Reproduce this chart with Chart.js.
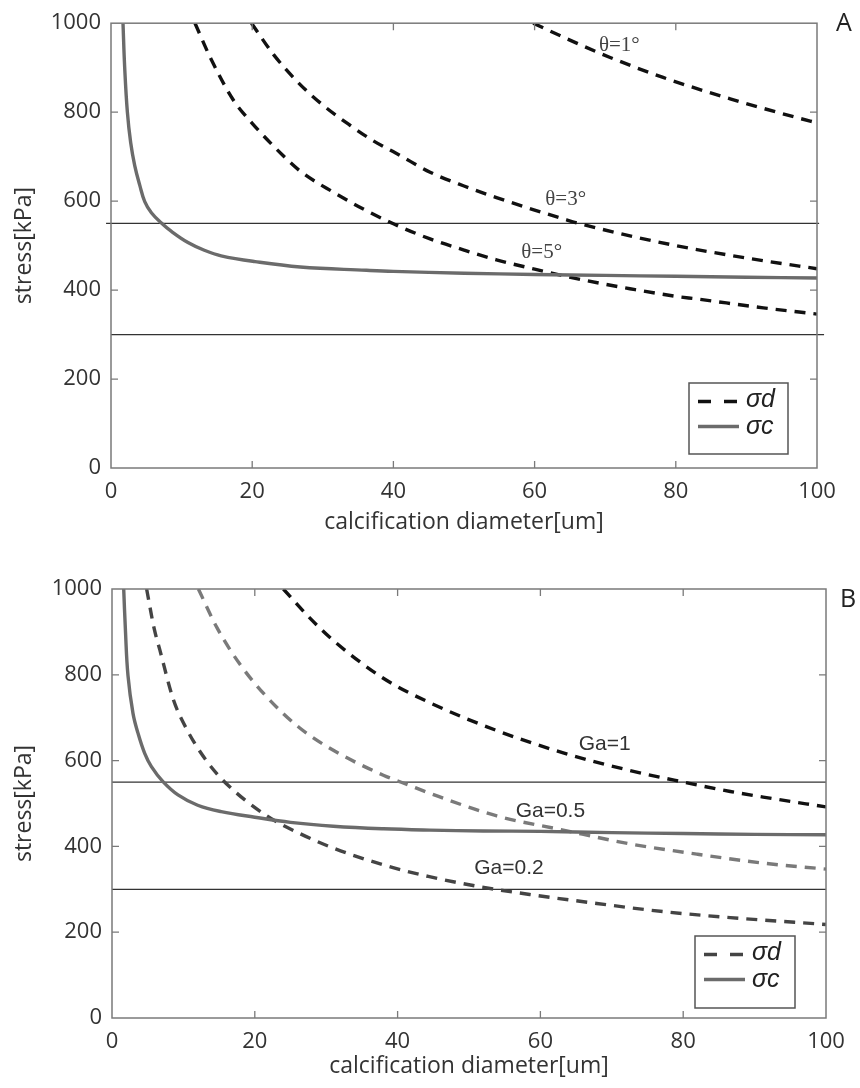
<!DOCTYPE html>
<html><head><meta charset="utf-8">
<script src="https://cdn.jsdelivr.net/npm/chart.js@4.4.1/dist/chart.umd.min.js"></script>
<style>
html,body{margin:0;padding:0;background:#fff;}
#wrap{position:relative;width:860px;height:1088px;overflow:hidden;}
.box{position:absolute;left:0;width:860px;height:544px;}
</style></head><body>
<div id="wrap">
<div class="box" style="top:0"><canvas id="cA"></canvas></div>
<div class="box" style="top:544px"><canvas id="cB"></canvas></div>
</div>
<script>
// ---------- data ----------
const xTicks = [0, 20, 40, 60, 80, 100];
const yTicks = [0, 200, 400, 600, 800, 1000];
const xTitle = 'calcification diameter[um]';
const yTitle = 'stress[kPa]';
const limitValues = [550, 300];

// Panel A
const aSigmaCX = [1.7, 1.94, 2.32, 2.79, 3.36, 4.07, 4.78, 5.72, 7.14, 8.56, 10.9, 13.3, 15.6, 20.4, 26.8, 36.2, 40, 50, 60, 70, 80, 90, 100];
const aSigmaCY = [1000, 900, 800, 731, 680, 636, 599, 574, 551, 532, 507, 489, 477, 464, 452, 444.5, 442, 438, 435, 433, 431, 429, 427];
const aTheta5X = [11.9, 14, 17.3, 20, 24.4, 27, 31.5, 36, 40, 45.2, 50, 54.6, 60, 64.1, 70, 73.5, 80, 83, 92.4, 100];
const aTheta5Y = [1000, 925, 828, 775, 702, 665, 620, 580, 549, 515, 490, 468, 447, 432, 413, 403, 386, 380, 360, 346];
const aTheta3X = [19.9, 23, 26.8, 30, 33.9, 37, 40.9, 45.2, 50, 54.6, 60, 64.1, 66, 73.5, 80, 83, 92.4, 100];
const aTheta3Y = [1000, 930, 862, 816, 770, 737, 703, 665, 634, 608, 580, 560, 551, 522, 500, 491, 466, 448];
const aTheta1X = [59.8, 65, 70.7, 78.2, 87.7, 97.1, 100];
const aTheta1Y = [1000, 962, 923, 878, 830, 788, 776];
const aLimitX = [[-0.7, 100.3], [0, 101]];
const aLabels = ['θ=1°', 'θ=3°', 'θ=5°'];
const aLabelX = [72.0, 64.4, 61.0];
const aLabelY = [949, 603, 485];

// Panel B
const bSigmaCX = [1.64, 1.88, 2.24, 2.94, 3.64, 4.58, 5.52, 7.14, 9.24, 12.0, 15.3, 20, 25, 31, 38, 44.5, 52, 60, 70, 80, 90, 100];
const bSigmaCY = [1000, 904, 798, 710, 664, 617, 586, 551, 520, 496, 481, 468, 456, 447, 441, 438, 436, 435, 432, 430, 428, 427];
const bGa02X = [4.85, 5.9, 6.7, 8.6, 10.5, 13.3, 16.1, 21.7, 26.3, 31, 38, 44.3, 51.5, 58.5, 67.9, 77.2, 86.6, 100];
const bGa02Y = [1000, 908, 858, 742, 672, 598, 545, 471, 430, 396, 357, 330, 306, 288, 267, 248, 234, 218];
const bGa05X = [12.1, 14.7, 17.9, 21.7, 26.3, 31, 38, 41.7, 44.5, 53.9, 63.2, 72.5, 81.9, 91.2, 100];
const bGa05Y = [1000, 910, 825, 748, 676, 624, 566, 542, 524, 471, 438, 406, 382, 361, 347];
const bGa1X = [24, 27.5, 31, 38, 44.5, 53.9, 63.2, 72.5, 80, 86.6, 91.2, 100];
const bGa1Y = [1000, 936, 880, 792, 735, 670, 618, 577, 550, 528, 515, 492];
const bLimitX = [[0, 100], [0, 100]];
const bLabels = ['Ga=1', 'Ga=0.5', 'Ga=0.2'];
const bLabelX = [69.0, 61.4, 55.6];
const bLabelY = [639, 481, 350];

const legendNames = ['σd', 'σc'];

// ---------- helpers ----------
function pts(xs, ys) { return xs.map((v, i) => ({x: v, y: ys[i]})); }
function curve(xs, ys, color, dashed, order) {
  return {
    data: pts(xs, ys), borderColor: color, borderWidth: 3.4,
    borderDash: dashed ? [11, 8] : [], borderCapStyle: 'butt',
    pointRadius: 0, pointHoverRadius: 0, fill: false,
    cubicInterpolationMode: dashed ? 'monotone' : 'default', tension: 0.4, order: order
  };
}
function limitSet(xr, yv) {
  return {
    data: [{x: xr[0], y: yv}, {x: xr[1], y: yv}], borderColor: '#333', borderWidth: 1.3,
    pointRadius: 0, fill: false, clip: false, tension: 0, order: 10
  };
}

const decor = {
  id: 'decor',
  afterDatasetsDraw(chart, args, o) {
    const {ctx, chartArea: ca, scales} = chart;
    const x = scales.x, y = scales.y;
    ctx.save();
    ctx.strokeStyle = '#7a7a7a'; ctx.lineWidth = 1.5; ctx.setLineDash([]);
    ctx.strokeRect(ca.left, ca.top, ca.right - ca.left, ca.bottom - ca.top);
    ctx.beginPath(); ctx.lineWidth = 1.3;
    x.ticks.forEach(t => {
      if (t.value <= x.min || t.value >= x.max) return;
      const p = x.getPixelForValue(t.value);
      ctx.moveTo(p, ca.bottom); ctx.lineTo(p, ca.bottom - 7);
      ctx.moveTo(p, ca.top); ctx.lineTo(p, ca.top + 7);
    });
    y.ticks.forEach(t => {
      if (t.value <= y.min || t.value >= y.max) return;
      const p = y.getPixelForValue(t.value);
      ctx.moveTo(ca.left, p); ctx.lineTo(ca.left + 7, p);
      ctx.moveTo(ca.right, p); ctx.lineTo(ca.right - 7, p);
    });
    ctx.stroke();
    ctx.fillStyle = o.labelColor; ctx.font = o.labelFont;
    ctx.textAlign = 'center'; ctx.textBaseline = 'middle';
    o.labels.forEach((s, i) => {
      ctx.fillText(s, x.getPixelForValue(o.labelX[i]), y.getPixelForValue(o.labelY[i]));
    });
    const L = o.legend;
    const bx = ca.right - L.right - L.w, by = ca.bottom - L.bottom - L.h;
    ctx.fillStyle = '#fff'; ctx.fillRect(bx, by, L.w, L.h);
    ctx.strokeStyle = '#555'; ctx.lineWidth = 1.5;
    ctx.strokeRect(bx, by, L.w, L.h);
    ctx.lineWidth = 3.4;
    ctx.strokeStyle = L.dashColor; ctx.setLineDash([13, 13]);
    ctx.beginPath(); ctx.moveTo(bx + 9, by + 18.5); ctx.lineTo(bx + 49, by + 18.5); ctx.stroke();
    ctx.strokeStyle = '#6b6b6b'; ctx.setLineDash([]);
    ctx.beginPath(); ctx.moveTo(bx + 9, by + 43.5); ctx.lineTo(bx + 50, by + 43.5); ctx.stroke();
    ctx.fillStyle = '#222'; ctx.font = 'italic 25px "Liberation Sans", Arial, sans-serif';
    ctx.textAlign = 'left'; ctx.textBaseline = 'middle';
    ctx.fillText(legendNames[0], bx + 57, by + 17);
    ctx.fillText(legendNames[1], bx + 57, by + 44);
    ctx.fillStyle = '#222'; ctx.font = '25px "Open Sans", sans-serif';
    ctx.textAlign = 'center';
    ctx.fillText(o.letter, o.letterX, o.letterY);
    ctx.restore();
  }
};

function makeOptions(p) {
  return {
    responsive: true, maintainAspectRatio: false, animation: false,
    layout: {padding: {left: 0, top: p.top, right: p.right, bottom: 0}},
    plugins: {
      legend: {display: false}, tooltip: {enabled: false},
      decor: p.decor
    },
    scales: {
      x: {
        type: 'linear', min: 0, max: 100,
        afterBuildTicks: s => { s.ticks = xTicks.map(v => ({value: v})); },
        afterFit: s => { s.height = p.xh; },
        grid: {display: false, drawTicks: false},
        border: {display: false},
        ticks: {padding: 11, color: '#333', callback: v => String(v),
                font: {family: '"Open Sans", sans-serif', size: 22}},
        title: {display: true, text: xTitle, color: '#333', padding: {top: 0, bottom: 8},
                font: {family: '"Open Sans", sans-serif', size: 23}}
      },
      y: {
        type: 'linear', min: 0, max: 1000,
        afterBuildTicks: s => { s.ticks = yTicks.map(v => ({value: v})); },
        afterFit: s => { s.width = p.yw; },
        grid: {display: false, drawTicks: false},
        border: {display: false},
        ticks: {padding: 10, color: '#333', callback: v => String(v),
                font: {family: '"Open Sans", sans-serif', size: 22}},
        title: {display: true, text: yTitle, color: '#333', padding: {top: 11, bottom: 0},
                font: {family: '"Open Sans", sans-serif', size: 23}}
      }
    }
  };
}

new Chart(document.getElementById('cA'), {
  type: 'line',
  data: {datasets: [
    curve(aSigmaCX, aSigmaCY, '#6b6b6b', false, 1),
    curve(aTheta5X, aTheta5Y, '#111', true, 2),
    curve(aTheta3X, aTheta3Y, '#111', true, 2),
    curve(aTheta1X, aTheta1Y, '#111', true, 2),
    limitSet(aLimitX[0], limitValues[0]),
    limitSet(aLimitX[1], limitValues[1])
  ]},
  options: makeOptions({top: 15, right: 43, xh: 76, yw: 111, decor: {
    labels: aLabels, labelX: aLabelX, labelY: aLabelY, labelColor: '#444',
    labelFont: '21px "Liberation Serif", "Times New Roman", serif',
    legend: {w: 99, h: 71, right: 29, bottom: 14, dashColor: '#111'},
    letter: 'A', letterX: 844, letterY: 24
  }}),
  plugins: [decor]
});

new Chart(document.getElementById('cB'), {
  type: 'line',
  data: {datasets: [
    curve(bSigmaCX, bSigmaCY, '#6b6b6b', false, 1),
    curve(bGa02X, bGa02Y, '#444', true, 2),
    curve(bGa05X, bGa05Y, '#7a7a7a', true, 2),
    curve(bGa1X, bGa1Y, '#111', true, 2),
    limitSet(bLimitX[0], limitValues[0]),
    limitSet(bLimitX[1], limitValues[1])
  ]},
  options: makeOptions({top: 45, right: 34, xh: 70, yw: 112, decor: {
    labels: bLabels, labelX: bLabelX, labelY: bLabelY, labelColor: '#333',
    labelFont: '21px "Liberation Sans", Arial, sans-serif',
    legend: {w: 100, h: 72, right: 31, bottom: 10, dashColor: '#444'},
    letter: 'B', letterX: 848, letterY: 56
  }}),
  plugins: [decor]
});
</script>
</body></html>
